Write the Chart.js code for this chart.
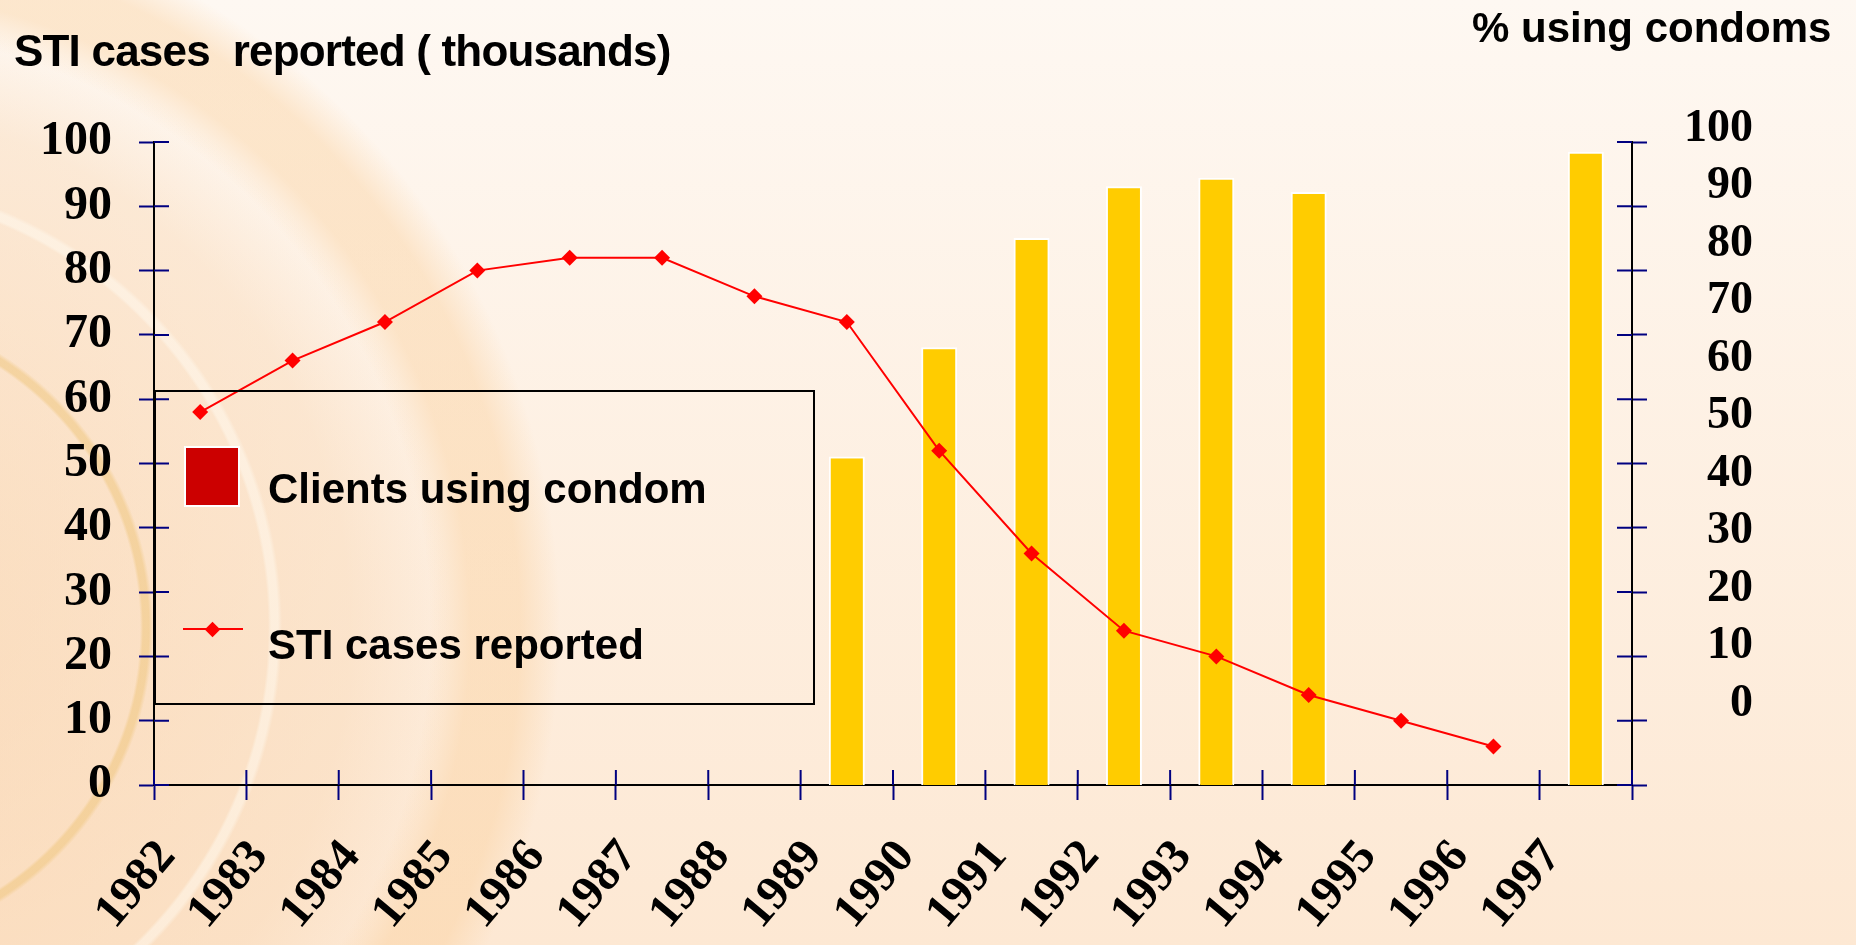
<!DOCTYPE html>
<html>
<head>
<meta charset="utf-8">
<script src="https://cdn.jsdelivr.net/npm/chart.js@4.4.1/dist/chart.umd.min.js"></script>
<style>
  html, body { margin: 0; padding: 0; }
  body {
    width: 1856px; height: 945px; overflow: hidden; position: relative;
    font-family: "Liberation Sans", Arial, sans-serif;
    background:
      radial-gradient(circle at -170px 628px, rgba(0,0,0,0) 0 310px, rgba(238,196,120,0.5) 313px 319px, rgba(0,0,0,0) 323px),
      radial-gradient(circle at -170px 628px, rgba(0,0,0,0) 0 438px, rgba(255,250,240,0.5) 441px 448px, rgba(0,0,0,0) 452px),
      radial-gradient(circle at -170px 628px, rgba(0,0,0,0) 0 600px, rgba(250,205,150,0.4) 640px 690px, rgba(0,0,0,0) 730px),
      radial-gradient(circle at -170px 628px, rgba(248,205,160,0.55) 0, rgba(248,210,170,0.35) 520px, rgba(248,210,170,0) 620px),
      linear-gradient(180deg, #FEF8F2 0%, #FDE8D3 100%);
  }
  #wrap { position: absolute; left: 0; top: 0; width: 1856px; height: 945px; }
  .title { position: absolute; font-weight: bold; color: #000; white-space: pre; line-height: 1; }
  #legend { position: absolute; left: 154px; top: 390px; width: 661px; height: 315px;
            box-sizing: border-box; border: 2px solid #000; }
  #legend .item { position: absolute; left: 112px; font-size: 42px; font-weight: bold; line-height: 42px; white-space: pre; }
  #legend .box { position: absolute; left: 28px; top: 54px; width: 56px; height: 61px;
                 box-sizing: border-box; border: 2px solid #fff; }
  #legend .line { position: absolute; left: 27px; top: 236px; width: 60px; height: 2px; }
  #legend .diamond { position: absolute; left: 50.5px; top: 231.5px; width: 11px; height: 11px; transform: rotate(45deg); }
</style>
</head>
<body>
<div id="wrap"><canvas id="chart"></canvas></div>
<div class="title" style="left:14px; top:29px; font-size:44px; letter-spacing:-0.8px;">STI cases  reported ( thousands)</div>
<div class="title" style="left:1472px; top:7px; font-size:42px;">% using condoms</div>
<div id="legend"></div>
<script>
const years = ['1982', '1983', '1984', '1985', '1986', '1987', '1988', '1989',
               '1990', '1991', '1992', '1993', '1994', '1995', '1996', '1997'];
// STI cases reported (thousands), left axis
const stiCases = [58, 66, 72, 80, 82, 82, 76, 72, 52, 36, 24, 20, 14, 10, 6, null];
// % of clients using condoms, right axis
const condomUse = [null, null, null, null, null, null, null, 43, 62, 81, 90, 91.5, 89, null, null, 96];
const leftTicks = [0, 10, 20, 30, 40, 50, 60, 70, 80, 90, 100];
const rightTicks = [0, 10, 20, 30, 40, 50, 60, 70, 80, 90, 100];

const LEFT_MAX = 100;
// the right labels are spaced tighter than the tick marks in the original,
// so the right scale runs from below the floor and its "100" sits above the top
const RIGHT_MIN = -14.1;
const RIGHT_MAX = 97.7;
const TICK_COLOR = '#000080';
const TICK_LEN = 15;
const serif = '"Liberation Serif", "Times New Roman", serif';

// tick marks in the reference cross the axis line, chart.js only draws the outer half
const crossTicks = {
  id: 'crossTicks',
  afterDraw(chart) {
    const { ctx } = chart;
    const { x, y, y3 } = chart.scales;
    ctx.save();
    ctx.strokeStyle = TICK_COLOR;
    ctx.lineWidth = 2;
    ctx.beginPath();
    y.ticks.forEach(t => {
      const py = y.getPixelForValue(t.value);
      ctx.moveTo(y.right, py); ctx.lineTo(y.right + TICK_LEN, py);
    });
    y3.ticks.forEach(t => {
      const py = y3.getPixelForValue(t.value);
      ctx.moveTo(y3.left - TICK_LEN, py); ctx.lineTo(y3.left, py);
    });
    for (let i = 0; i <= years.length; i++) {
      const px = x.getPixelForValue(i - 0.5);
      ctx.moveTo(px, x.top - TICK_LEN); ctx.lineTo(px, x.top);
    }
    ctx.stroke();
    ctx.restore();
  }
};

const chart = new Chart(document.getElementById('chart'), {
  data: {
    labels: years,
    datasets: [
      {
        type: 'line', label: 'STI cases reported', data: stiCases, yAxisID: 'y', order: 0,
        borderColor: '#FF0000', borderWidth: 2, tension: 0,
        pointStyle: 'rectRot', pointRadius: 8, pointBackgroundColor: '#FF0000', pointBorderWidth: 0
      },
      {
        type: 'bar', label: 'Clients using condom', data: condomUse, yAxisID: 'y2', order: 1,
        base: RIGHT_MIN, backgroundColor: '#FFCC00', borderColor: '#FFFFFF', borderWidth: 2,
        barPercentage: 0.39, categoryPercentage: 1, legendColor: '#CC0000'
      }
    ]
  },
  options: {
    responsive: true,
    maintainAspectRatio: false,
    animation: false,
    layout: { padding: { left: 0, right: 103, top: 142, bottom: 0 } },
    plugins: { legend: { display: false }, tooltip: { enabled: false } },
    scales: {
      x: {
        type: 'category',
        offset: true,
        grid: { offset: true, drawOnChartArea: false, tickLength: TICK_LEN, tickColor: TICK_COLOR, tickWidth: 2 },
        border: { color: '#000', width: 2 },
        ticks: {
          color: '#000', font: { family: serif, size: 48, weight: 'bold' },
          minRotation: 50, maxRotation: 50, autoSkip: false, padding: 30, labelOffset: -33
        },
        afterFit: s => { s.height = 160; }
      },
      y: {
        position: 'left', min: 0, max: LEFT_MAX,
        afterBuildTicks: s => { s.ticks = leftTicks.map(v => ({ value: v })); },
        grid: { drawOnChartArea: false, tickLength: TICK_LEN, tickColor: TICK_COLOR, tickWidth: 2 },
        border: { color: '#000', width: 2 },
        ticks: { color: '#000', font: { family: serif, size: 48, weight: 'bold' }, padding: 27, autoSkip: false },
        afterFit: s => { s.width = 154; }
      },
      y3: {
        position: 'right', weight: 0, min: 0, max: LEFT_MAX,
        afterBuildTicks: s => { s.ticks = leftTicks.map(v => ({ value: v })); },
        grid: { drawOnChartArea: false, tickLength: TICK_LEN, tickColor: TICK_COLOR, tickWidth: 2 },
        border: { color: '#000', width: 2 },
        ticks: { display: false },
        afterFit: s => { s.width = 16; }
      },
      y2: {
        position: 'right', weight: 1, min: RIGHT_MIN, max: RIGHT_MAX,
        afterBuildTicks: s => { s.ticks = rightTicks.map(v => ({ value: v })); },
        grid: { display: false },
        border: { display: false },
        ticks: { color: '#000', font: { family: serif, size: 46, weight: 'bold' }, crossAlign: 'far', padding: 0, autoSkip: false },
        afterFit: s => { s.width = 105; }
      }
    }
  },
  plugins: [crossTicks]
});

// legend box, built from the datasets (bars listed first as in the original)
const legend = document.getElementById('legend');
const barSet = chart.data.datasets[1];
const lineSet = chart.data.datasets[0];
legend.innerHTML =
  `<div class="box" style="background:${barSet.legendColor}"></div>` +
  `<div class="item" style="top:76px">${barSet.label}</div>` +
  `<div class="line" style="background:${lineSet.borderColor}"></div>` +
  `<div class="diamond" style="background:${lineSet.pointBackgroundColor}"></div>` +
  `<div class="item" style="top:232px">${lineSet.label}</div>`;
</script>
</body>
</html>
